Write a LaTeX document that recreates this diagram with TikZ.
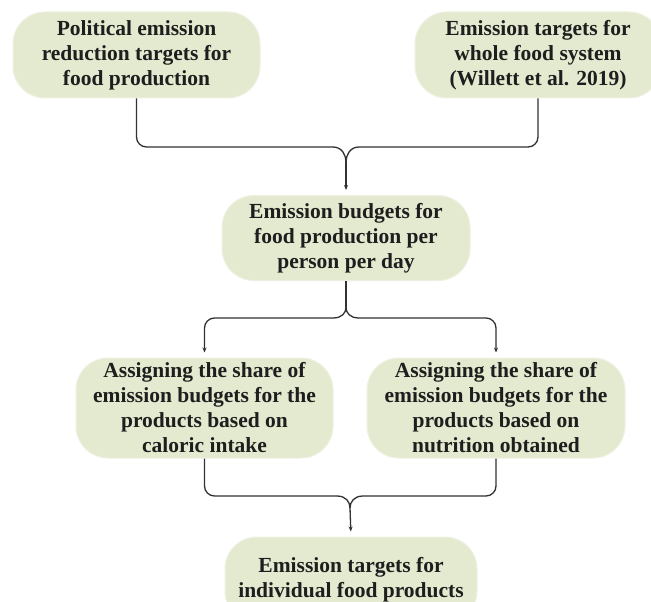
\documentclass[tikz,border=0pt]{standalone}
\usepackage{fontspec}
\setmainfont{Liberation Serif}
\usetikzlibrary{arrows.meta,calc}
\definecolor{boxfill}{RGB}{228,234,207}
\definecolor{boxedge}{RGB}{238,241,226}
\definecolor{linecol}{RGB}{50,50,50}
\definecolor{txtcol}{RGB}{30,30,30}
\begin{document}
\begin{tikzpicture}[x=1pt,y=-1pt,
  fbox/.style={rectangle, rounded corners=32pt, fill=boxfill, draw=boxedge, line width=1pt,
    align=center, inner sep=0pt, text=txtcol,
    font=\fontsize{21.5}{25}\selectfont\bfseries},
  conn/.style={draw=linecol, line width=1.3pt},
  arr/.style={conn, -{Stealth[length=5pt,width=4pt]}, shorten >=5pt}]
\useasboundingbox (0,0) rectangle (651,602);
\fill[white] (0,0) rectangle (651,602);

\node[fbox, minimum width=247pt, minimum height=86pt] (tl) at (136.5,55) {Political emission\\reduction targets for\\food production};
\node[fbox, minimum width=246pt, minimum height=86pt] (tr) at (538,55) {Emission targets for\\whole food system\\(Willett et al. 2019)};
\node[fbox, minimum width=248pt, minimum height=85pt] (mid) at (346,238) {Emission budgets for\\food production per\\person per day};
\node[fbox, minimum width=257pt, minimum height=100pt] (cal) at (204.5,408) {Assigning the share of\\emission budgets for the\\products based on\\caloric intake};
\node[fbox, minimum width=258pt, minimum height=100pt] (nut) at (496,408) {Assigning the share of\\emission budgets for the\\products based on\\nutrition obtained};
\node[fbox, minimum width=252pt, minimum height=86pt] (ind) at (351,580) {Emission targets for\\individual food products};

% top merge
\coordinate (h1) at (346,147);
\coordinate (j1) at (346,162);
\draw[conn, rounded corners=10pt] (tl.south) -- (tl.south |- h1) -- ($(h1)+(-13,0)$);
\draw[conn] ($(h1)+(-13,0)$) .. controls ($(h1)+(-4,0)$) and ($(j1)+(0,-7)$) .. (j1);
\draw[conn, rounded corners=10pt] (tr.south) -- (tr.south |- h1) -- ($(h1)+(13,0)$);
\draw[conn] ($(h1)+(13,0)$) .. controls ($(h1)+(4,0)$) and ($(j1)+(0,-7)$) .. (j1);
\draw[arr] (j1) -- (mid.north);

% split
\coordinate (j2) at (346,307);
\coordinate (h2) at (346,318);
\coordinate (sl) at (cal.north |- h2);
\coordinate (sr) at (nut.north |- h2);
\draw[conn] (mid.south) -- (j2);
\draw[conn] (j2) .. controls ($(j2)+(0,6)$) and ($(h2)+(-4,0)$) .. ($(h2)+(-13,0)$);
\draw[conn] (j2) .. controls ($(j2)+(0,6)$) and ($(h2)+(4,0)$) .. ($(h2)+(13,0)$);
\draw[arr, rounded corners=10pt] ($(h2)+(-13,0)$) -- (sl) -- (cal.north);
\draw[arr, rounded corners=10pt] ($(h2)+(13,0)$) -- (sr) -- (nut.north);

% bottom merge
\coordinate (h3) at (350,496);
\coordinate (j3) at (350,508);
\draw[conn, rounded corners=10pt] (cal.south) -- (cal.south |- h3) -- ($(h3)+(-13,0)$);
\draw[conn] ($(h3)+(-13,0)$) .. controls ($(h3)+(-4,0)$) and ($(j3)+(0,-6)$) .. (j3);
\draw[conn, rounded corners=10pt] (nut.south) -- (nut.south |- h3) -- ($(h3)+(13,0)$);
\draw[conn] ($(h3)+(13,0)$) .. controls ($(h3)+(4,0)$) and ($(j3)+(0,-6)$) .. (j3);
\draw[arr] (j3) -- (ind.north);
\end{tikzpicture}
\end{document}
